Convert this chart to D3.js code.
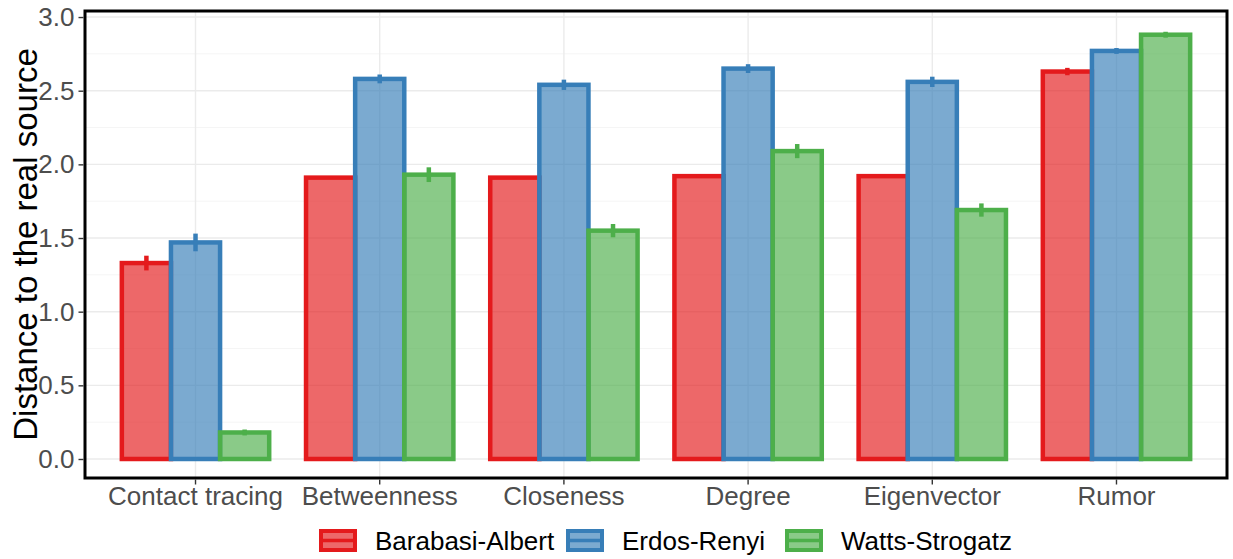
<!DOCTYPE html>
<html lang="en">
<head>
<meta charset="UTF-8">
<title>Distance to the real source</title>
<script src="https://d3js.org/d3.v7.min.js"></script>
<style>
  body { margin: 0; background: #fff; }
  text { font-family: "Liberation Sans", Arial, sans-serif; }
  .grid-major { stroke: #ebebeb; stroke-width: 1.4px; }
  .grid-minor { stroke: #f2f2f2; stroke-width: 0.8px; }
</style>
</head>
<body>
<div id="container"></div>
<script>
// categories, series and values
const categories = ["Contact tracing", "Betweenness", "Closeness", "Degree", "Eigenvector", "Rumor"];
const seriesNames = ["Barabasi-Albert", "Erdos-Renyi", "Watts-Strogatz"];
const seriesColors = ["#E41A1C", "#377EB8", "#4DAF4A"];

const baMeans = [1.33, 1.91, 1.91, 1.92, 1.92, 2.63];
const erMeans = [1.47, 2.58, 2.54, 2.65, 2.56, 2.77];
const wsMeans = [0.18, 1.93, 1.55, 2.09, 1.69, 2.88];

const baErr = [0.05, 0.005, 0.005, 0.008, 0.005, 0.025];
const erErr = [0.06, 0.03, 0.035, 0.03, 0.035, 0.02];
const wsErr = [0.02, 0.05, 0.045, 0.048, 0.045, 0.02];

const yTicks = [0, 0.5, 1, 1.5, 2, 2.5, 3];
const yMinorTicks = [0.25, 0.75, 1.25, 1.75, 2.25, 2.75];

const means = [baMeans, erMeans, wsMeans];
const errs = [baErr, erErr, wsErr];

const W = 1233, H = 559;
const panel = { left: 85, right: 1227, top: 11, bottom: 478 };

const svg = d3.select("#container").append("svg")
  .attr("width", W).attr("height", H);

const x = d3.scaleBand()
  .domain(categories)
  .range([panel.left, panel.right])
  .paddingInner(0)
  .paddingOuter(0.1);

const x1 = d3.scaleBand()
  .domain(seriesNames)
  .range([x.bandwidth() * 0.1, x.bandwidth() * 0.9]);

const y = d3.scaleLinear()
  .domain([-0.129, 3.041])
  .range([panel.bottom, panel.top]);

// grid
const grid = svg.append("g");
grid.selectAll("line.minor").data(yMinorTicks).enter().append("line")
  .attr("class", "grid-minor")
  .attr("x1", panel.left).attr("x2", panel.right)
  .attr("y1", d => y(d)).attr("y2", d => y(d));
grid.selectAll("line.majorY").data(yTicks).enter().append("line")
  .attr("class", "grid-major")
  .attr("x1", panel.left).attr("x2", panel.right)
  .attr("y1", d => y(d)).attr("y2", d => y(d));
grid.selectAll("line.majorX").data(categories).enter().append("line")
  .attr("class", "grid-major")
  .attr("x1", d => x(d) + x.bandwidth() / 2).attr("x2", d => x(d) + x.bandwidth() / 2)
  .attr("y1", panel.top).attr("y2", panel.bottom);

// flatten to one record per bar
const rows = [];
categories.forEach((c, i) => {
  seriesNames.forEach((s, j) => {
    rows.push({ cat: c, series: s, si: j, value: means[j][i], err: errs[j][i] });
  });
});

const bars = svg.append("g");
bars.selectAll("rect").data(rows).enter().append("rect")
  .attr("x", d => x(d.cat) + x1(d.series))
  .attr("width", x1.bandwidth())
  .attr("y", d => y(d.value))
  .attr("height", d => y(0) - y(d.value))
  .attr("fill", d => seriesColors[d.si])
  .attr("fill-opacity", 0.66)
  .attr("stroke", d => seriesColors[d.si])
  .attr("stroke-width", 4.5);

// error bars (no caps)
bars.selectAll("line").data(rows).enter().append("line")
  .attr("x1", d => x(d.cat) + x1(d.series) + x1.bandwidth() / 2)
  .attr("x2", d => x(d.cat) + x1(d.series) + x1.bandwidth() / 2)
  .attr("y1", d => y(d.value + d.err))
  .attr("y2", d => y(d.value - d.err))
  .attr("stroke", d => seriesColors[d.si])
  .attr("stroke-width", 4.5);

// panel border
svg.append("rect")
  .attr("x", panel.left).attr("y", panel.top)
  .attr("width", panel.right - panel.left)
  .attr("height", panel.bottom - panel.top)
  .attr("fill", "none").attr("stroke", "#000").attr("stroke-width", 3);

// y axis
const yAxis = svg.append("g")
  .attr("transform", "translate(" + (panel.left - 1.5) + ",0)")
  .call(d3.axisLeft(y).tickValues(yTicks).tickFormat(d3.format(".1f")).tickSize(5).tickPadding(4));
yAxis.select(".domain").remove();
yAxis.attr("font-size", 26).attr("font-family", null);
yAxis.selectAll(".tick line").attr("stroke", "#333").attr("stroke-width", 1.4);
yAxis.selectAll(".tick text").attr("fill", "#4d4d4d");

// x axis
const xAxis = svg.append("g")
  .attr("transform", "translate(0," + (panel.bottom + 1.5) + ")")
  .call(d3.axisBottom(x).tickSize(5).tickPadding(2));
xAxis.select(".domain").remove();
xAxis.attr("font-size", 26).attr("font-family", null);
xAxis.selectAll(".tick line").attr("stroke", "#333").attr("stroke-width", 1.4);
xAxis.selectAll(".tick text").attr("fill", "#4d4d4d");

// y title
svg.append("text")
  .attr("transform", "translate(37," + ((panel.top + panel.bottom) / 2) + ") rotate(-90)")
  .attr("text-anchor", "middle")
  .attr("font-size", 33)
  .attr("fill", "#000")
  .text("Distance to the real source");

// legend
const legendX = [319, 566, 785];
const legend = svg.append("g").attr("transform", "translate(0,529)");
const items = legend.selectAll("g").data(seriesNames).enter().append("g")
  .attr("transform", (d, i) => "translate(" + legendX[i] + ",0)");
items.append("rect")
  .attr("x", 2).attr("y", 2).attr("width", 34).attr("height", 19)
  .attr("fill", (d, i) => seriesColors[i]).attr("fill-opacity", 0.66)
  .attr("stroke", (d, i) => seriesColors[i]).attr("stroke-width", 4);
items.append("line")
  .attr("x1", 2).attr("x2", 36).attr("y1", 11.5).attr("y2", 11.5)
  .attr("stroke", (d, i) => seriesColors[i]).attr("stroke-width", 3.5);
items.append("text")
  .attr("x", 56).attr("y", 21)
  .attr("font-size", 26).attr("fill", "#000")
  .text(d => d);
</script>
</body>
</html>
